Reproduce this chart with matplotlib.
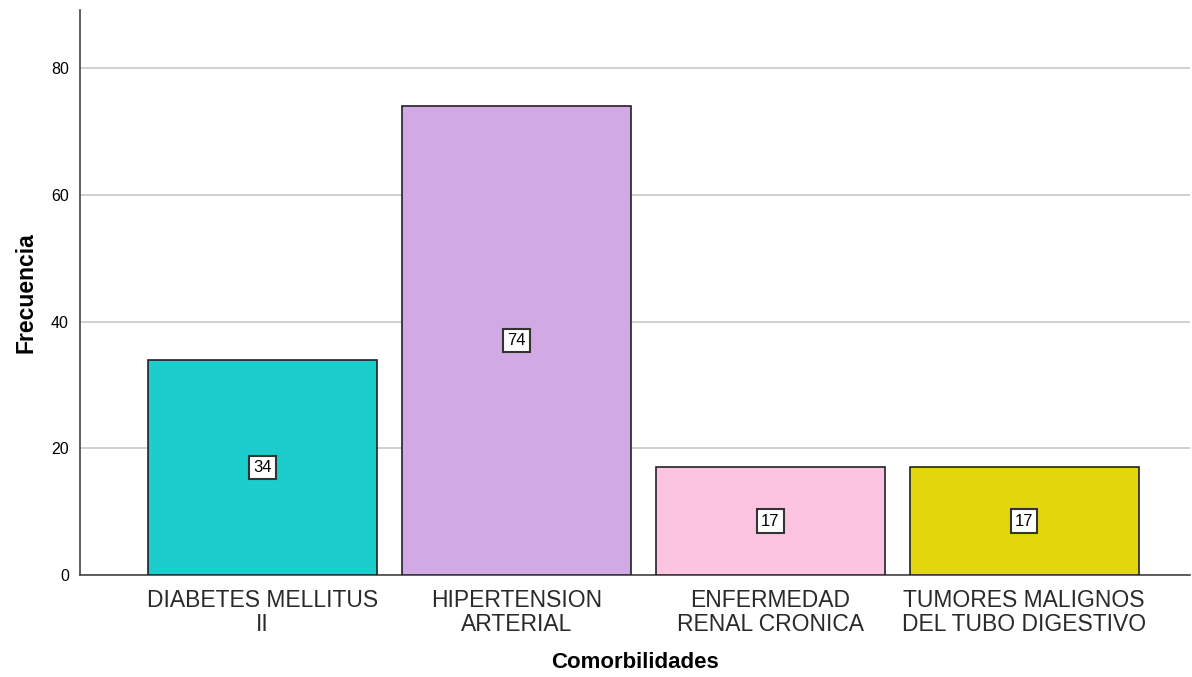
import numpy as np
import matplotlib.pyplot as plt

plt.rcParams['font.family'] = ['Liberation Sans', 'DejaVu Sans']

categorias = ['DIABETES MELLITUS\nII', 'HIPERTENSION\nARTERIAL',
              'ENFERMEDAD\nRENAL CRONICA', 'TUMORES MALIGNOS\nDEL TUBO DIGESTIVO']
frecuencias = [34, 74, 17, 17]
colores = ['#1ccdcd', '#d1a9e5', '#fdc4e2', '#e2d70d']

fig = plt.figure(figsize=(11.92, 6.77), dpi=100)
ax = fig.add_axes([0.0671, 0.1507, 0.9309, 0.8343])

x = np.arange(len(categorias))
ax.bar(x, frecuencias, width=0.9016, color=colores, edgecolor='#222222',
       linewidth=1.2, zorder=3)

for xi, v in zip(x, frecuencias):
    ax.text(xi, v / 2, str(v), ha='center', va='center', fontsize=12, zorder=4,
            bbox=dict(boxstyle='square,pad=0.25', facecolor='white',
                      edgecolor='#333333', linewidth=1.5))

ax.set_xlim(-0.7185, 3.652)
ax.set_ylim(0, 89.15)
ax.set_yticks([0, 20, 40, 60, 80])
ax.set_xticks(x)
ax.set_xticklabels(categorias, fontsize=16.5, color='#2a2a2a', linespacing=1.05)
ax.tick_params(axis='both', length=0)
ax.tick_params(axis='y', labelsize=11.5, pad=8)
ax.tick_params(axis='x', pad=10)
ax.yaxis.grid(True, color='#c8c8c8', linewidth=1.2, zorder=0)
ax.set_axisbelow(True)

for s in ['top', 'right']:
    ax.spines[s].set_visible(False)
for s in ['left', 'bottom']:
    ax.spines[s].set_color('#444444')
    ax.spines[s].set_linewidth(1.2)

ax.set_ylabel('Frecuencia', fontsize=16.5, fontweight='bold', labelpad=10)
ax.set_xlabel('Comorbilidades', fontsize=16, fontweight='bold', labelpad=12)

fig.savefig('out.png', dpi=100)
